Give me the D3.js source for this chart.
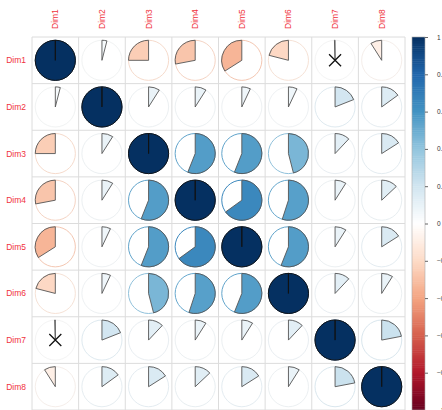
<!DOCTYPE html>
<html>
<head>
<meta charset="utf-8">
<script src="https://cdn.jsdelivr.net/npm/d3@7"></script>
<style>
  body { margin: 0; background: #fff; }
  svg { display: block; font-family: "Liberation Sans", Arial, sans-serif; }
</style>
</head>
<body>
<div class="container"></div>
<script>
const dims = ["Dim1", "Dim2", "Dim3", "Dim4", "Dim5", "Dim6", "Dim7", "Dim8"];
// upper triangle of the correlation matrix, row by row
const row1 = [1, 0.04, -0.25, -0.28, -0.34, -0.21, -0.005, -0.09];
const row2 = [0.09, 0.09, 0.07, 0.07, 0.19, 0.15];
const row3 = [0.56, 0.56, 0.46, 0.12, 0.16];
const row4 = [0.65, 0.55, 0.09, 0.13];
const row5 = [0.56, 0.09, 0.16];
const row6 = [0.12, 0.09];
const row7 = [0.22];
// pairs marked as not significant
const insignificant = [["Dim1", "Dim7"]];
const barTicks = [1, 0.8, 0.6, 0.4, 0.2, 0, -0.2, -0.4, -0.6, -0.8, -1];
const palette = ["#67001F", "#B2182B", "#D6604D", "#F4A582", "#FDDBC7", "#FFFFFF",
                 "#D1E5F0", "#92C5DE", "#4393C3", "#2166AC", "#053061"];

const w = 442, h = 410;
const gridLeft = 32, gridTop = 37, size = 373;

// build full symmetric matrix
const upper = [row1.slice(1), row2, row3, row4, row5, row6, row7];
const n = dims.length;
const mat = dims.map(() => dims.map(() => 1));
upper.forEach((r, i) => r.forEach((v, k) => {
  const j = i + 1 + k;
  mat[i][j] = v;
  mat[j][i] = v;
}));
const cells = [];
for (let i = 0; i < n; i++) for (let j = 0; j < n; j++) {
  cells.push({row: dims[i], col: dims[j], value: mat[i][j]});
}
const isInsig = (d) => insignificant.some(p =>
  (p[0] === d.row && p[1] === d.col) || (p[1] === d.row && p[0] === d.col));

const color = d3.scaleLinear()
  .domain(d3.range(palette.length).map(i => -1 + 2 * i / (palette.length - 1)))
  .range(palette)
  .interpolate(d3.interpolateRgb);

const xScale = d3.scaleBand().domain(dims).range([gridLeft, gridLeft + size]);
const yScale = d3.scaleBand().domain(dims).range([gridTop, gridTop + size]);
const bw = xScale.bandwidth();
const radius = bw * 0.43;

const svg = d3.select(".container").append("svg")
  .attr("width", w)
  .attr("height", h);

// grid
const grid = svg.append("g");
grid.selectAll("line.v")
  .data(d3.range(n + 1))
  .enter().append("line")
  .attr("x1", d => gridLeft + d * bw).attr("x2", d => gridLeft + d * bw)
  .attr("y1", gridTop).attr("y2", gridTop + size)
  .attr("stroke", "#dcdcdc").attr("stroke-width", 1);
grid.selectAll("line.h")
  .data(d3.range(n + 1))
  .enter().append("line")
  .attr("y1", d => gridTop + d * bw).attr("y2", d => gridTop + d * bw)
  .attr("x1", gridLeft).attr("x2", gridLeft + size)
  .attr("stroke", "#dcdcdc").attr("stroke-width", 1);

function pie(v) {
  const p = d3.path();
  const a = Math.abs(v) * 2 * Math.PI;
  const sgn = v >= 0 ? 1 : -1;
  p.moveTo(0, 0);
  p.lineTo(0, -radius);
  if (a >= 2 * Math.PI - 1e-6) {
    p.arc(0, 0, radius, -Math.PI / 2, Math.PI / 2, false);
    p.arc(0, 0, radius, Math.PI / 2, 3 * Math.PI / 2, false);
  } else if (a > 0) {
    const end = -Math.PI / 2 + sgn * a;
    p.arc(0, 0, radius, -Math.PI / 2, end, sgn < 0);
  }
  p.closePath();
  return p.toString();
}

const g = svg.selectAll("g.cell")
  .data(cells)
  .enter().append("g")
  .attr("class", "cell")
  .attr("transform", d => "translate(" + (xScale(d.col) + bw / 2) + "," + (yScale(d.row) + bw / 2) + ")");

g.append("circle")
  .attr("r", radius)
  .attr("fill", "none")
  .attr("stroke", d => d3.interpolateRgb("#eeeeee", color(d.value))(Math.min(1, 0.35 + Math.abs(d.value))))
  .attr("stroke-width", 1);

g.append("path")
  .attr("d", d => pie(d.value))
  .attr("fill", d => color(d.value))
  .attr("stroke", d => Math.abs(d.value) === 1 ? "#111" : "#555")
  .attr("stroke-width", 0.9)
  .attr("stroke-linejoin", "round");

g.filter(isInsig).append("path")
  .attr("d", "M-6,-6L6,6M6,-6L-6,6")
  .attr("stroke", "#111")
  .attr("stroke-width", 1.3);

// labels
svg.selectAll("text.col")
  .data(dims)
  .enter().append("text")
  .attr("transform", d => "translate(" + (xScale(d) + bw / 2 + 3) + "," + (gridTop - 8) + ") rotate(-90)")
  .attr("fill", "#f0323c")
  .attr("font-size", 8.5)
  .text(d => d);

svg.selectAll("text.row")
  .data(dims)
  .enter().append("text")
  .attr("x", gridLeft - 6)
  .attr("y", d => yScale(d) + bw / 2 + 3)
  .attr("text-anchor", "end")
  .attr("fill", "#f0323c")
  .attr("font-size", 8.5)
  .text(d => d);

// colour bar
const barX = 412, barW = 13;
const barScale = d3.scaleLinear().domain([1, -1]).range([gridTop, gridTop + size]);
const steps = d3.range(200).map(i => 1 - (i + 0.5) / 100);
svg.append("g").selectAll("rect")
  .data(steps)
  .enter().append("rect")
  .attr("x", barX)
  .attr("y", d => barScale(d + 0.005))
  .attr("width", barW)
  .attr("height", barScale(0) - barScale(0.01) + 0.5)
  .attr("fill", d => color(d));
svg.append("rect")
  .attr("x", barX).attr("y", gridTop)
  .attr("width", barW).attr("height", size)
  .attr("fill", "none").attr("stroke", "#aaa").attr("stroke-width", 0.6);

const barAxis = d3.axisRight(barScale)
  .tickValues(barTicks)
  .tickSize(3)
  .tickPadding(9)
  .tickFormat(d3.format("~g"));
const ax = svg.append("g")
  .attr("transform", "translate(" + (barX + barW) + ",0)")
  .call(barAxis);
ax.select(".domain").remove();
ax.selectAll("line").attr("stroke", "#666");
ax.selectAll("text").attr("fill", "#333").attr("font-size", 6.5)
  .attr("font-family", "Liberation Sans, Arial, sans-serif");
</script>
</body>
</html>
